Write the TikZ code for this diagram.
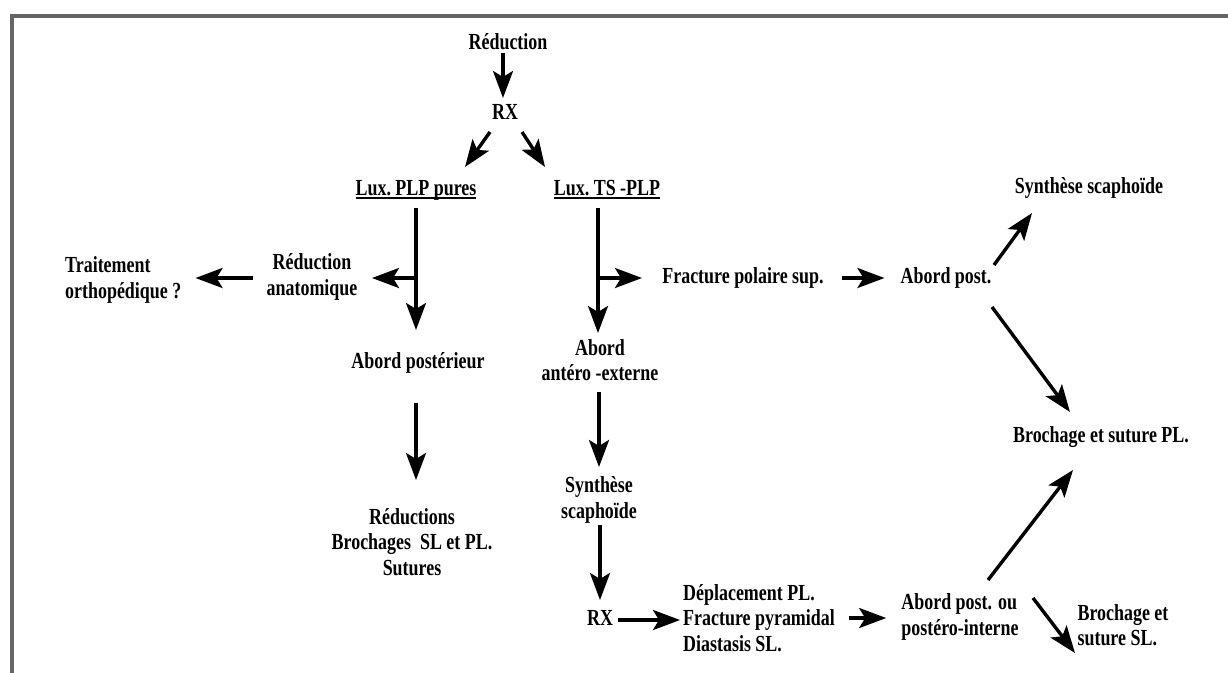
\documentclass[tikz,border=0pt]{standalone}
\usepackage{fontspec}
\usetikzlibrary{arrows.meta,calc}
\newfontfamily\df{Liberation Serif Bold}[FakeStretch=0.78]
\newcommand\myul[1]{\setbox0\hbox{#1}\rlap{\rule[-3.5pt]{\wd0}{2pt}}\box0}
\begin{document}
\begin{tikzpicture}[x=1pt,y=-1pt,
  lbl/.style={inner sep=0pt, font=\df\fontsize{23}{25.5}\selectfont, align=center},
  arr/.style={line width=3.4pt, -{Stealth[length=27pt,width=20pt,inset=6pt]}},
  ln/.style={line width=3.4pt}]
\useasboundingbox (0,0) rectangle (1228,673);
\draw[line width=3.5pt, black!60] (1228,16) -- (12,16) -- (12,673);

% nodes
\node[lbl] (red) at (508,42) {Réduction};
\node[lbl] (rx1) at (505,112) {RX};
\node[lbl] (plp) at (416,190) {\myul{Lux.\ PLP pures}};
\node[lbl] (ts) at (607,190) {\myul{Lux.\ TS -PLP}};
\node[lbl, align=left, anchor=west] (trait) at (65,280) {Traitement\\orthopédique ?};
\node[lbl] (redanat) at (312,277) {Réduction\\anatomique};
\node[lbl] (abpost) at (418,363) {Abord postérieur};
\node[lbl] (reds) at (412,542) {Réductions\\Brochages\ \ SL et PL.\\Sutures};
\node[lbl] (abae) at (600,360) {Abord\\antéro -externe};
\node[lbl] (synth) at (599,500) {Synthèse\\scaphoïde};
\node[lbl] (rx2) at (600,618) {RX};
\node[lbl, align=left, anchor=west] (dep) at (683,618) {Déplacement PL.\\Fracture pyramidal\\Diastasis SL.};
\node[lbl] (fps) at (743,278) {Fracture polaire sup.};
\node[lbl] (abp) at (946,278) {Abord post.};
\node[lbl] (ss) at (1089,188) {Synthèse scaphoïde};
\node[lbl] (bpl) at (1101,437) {Brochage et suture PL.};
\node[lbl, align=left] (abpo) at (960,617) {Abord post. ou\\postéro-interne};
\node[lbl, align=left] (bsl) at (1123,625) {Brochage et\\suture SL.};

% branch points
\coordinate (b1) at ($(plp)+(0,88)$);
\coordinate (b2) at ($(ts)+(-9,88)$);

% connectors
\draw[arr] ($(red)+(-5,11)$) -- ($(rx1)+(-2,-14)$);
\draw[arr] ($(rx1)+(-15,20)$) -- ($(plp)+(49,-23)$);
\draw[arr] ($(rx1)+(17,20)$) -- ($(ts)+(-62,-23)$);
\draw[arr] ($(plp)+(0,18)$) -- ($(abpost)+(-2,-33)$);
\draw[arr] (b1) -- ($(redanat)+(60,1)$);
\draw[arr] ($(redanat)+(-59,1)$) -- ($(trait.east)+(14,-2)$);
\draw[arr] ($(abpost)+(-2,40)$) -- ($(reds)+(4,-62)$);
\draw[arr] ($(ts)+(-9,18)$) -- ($(abae)+(-2,-27)$);
\draw[arr] (b2) -- ($(b2)+(44,0)$);
\draw[arr] ($(abae)+(-1,32)$) -- ($(synth)+(0,-33)$);
\draw[arr] ($(synth)+(1,25)$) -- ($(rx2)+(0,-18)$);
\draw[arr] ($(rx2.east)+(5,2)$) -- ($(dep.west)+(-3,2)$);
\draw[arr] ($(dep.east)+(14,0)$) -- ($(abpo.west)+(-15,1)$);
\draw[arr] ($(fps.east)+(18,0)$) -- ($(abp.west)+(-16,0)$);
\draw[arr] ($(abp)+(48,-13)$) -- ($(ss)+(-57,25)$);
\draw[arr] ($(abp)+(46,29)$) -- ($(bpl)+(-31,-25)$);
\draw[arr] ($(abpo)+(28,-37)$) -- ($(bpl)+(-28,33)$);
\draw[arr] ($(abpo)+(73,-19)$) -- ($(bsl)+(-48,28)$);
\end{tikzpicture}
\end{document}
